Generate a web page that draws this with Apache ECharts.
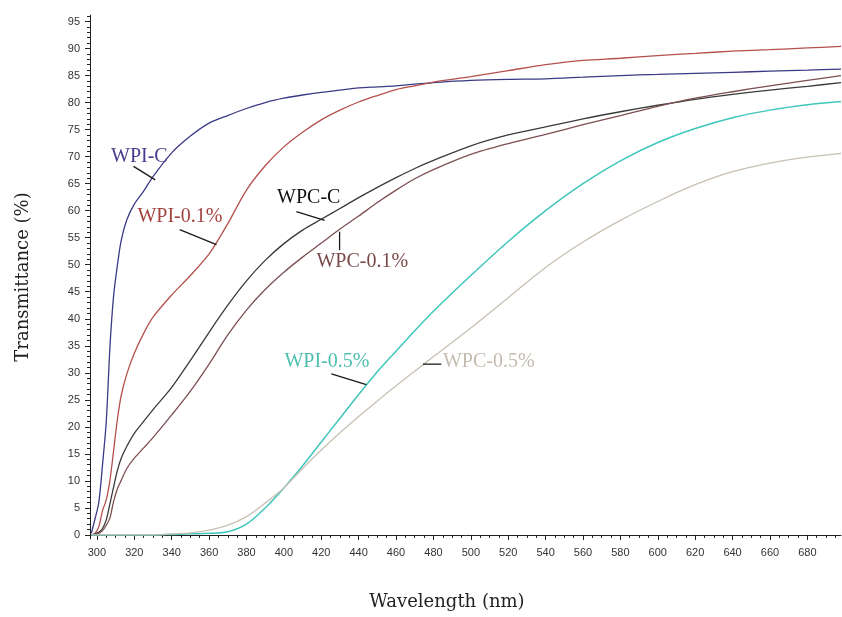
<!DOCTYPE html>
<html>
<head>
	<meta charset="UTF-8">
	<script src="https://cdn.jsdelivr.net/npm/echarts@6/dist/echarts.min.js"></script>
	<title>Transmittance</title>
	<style>
		html, body { margin: 0; padding: 0; background: #fff; }
	</style>
</head>
<body>
	<div id="main" style="width:842px;height:617px;"></div>
	<script type="text/javascript">
        // wavelength grid (nm) shared by all curves
        var wavelength = [297, 299, 301, 303, 305, 307, 309, 311, 313, 316, 320, 325, 330,
            340, 350, 360, 370, 380, 390, 400, 410, 420, 430, 440, 450, 460, 470, 480,
            500, 520, 540, 560, 580, 600, 620, 640, 660, 680, 698];

        // transmittance (%)
        var wpiC = [0.3, 3, 6, 13, 21, 35, 44.5, 50, 54.5, 58.3, 61.2, 63.6, 66.3,
            70.7, 73.8, 76.2, 77.6, 78.9, 80.0, 80.8, 81.4, 81.9, 82.3, 82.7, 82.9, 83.1, 83.4, 83.7,
            84.1, 84.3, 84.4, 84.7, 85.0, 85.2, 85.4, 85.6, 85.8, 86.0, 86.2];
        var wpi01 = [0, 0.3, 1.5, 4.5, 6.5, 10.2, 15.8, 21.5, 25.8, 29.8, 33.6, 37.3, 40.3,
            44.4, 48.0, 52.0, 57.6, 63.8, 68.3, 71.8, 74.5, 76.8, 78.6, 80.1, 81.3, 82.4, 83.1, 83.8,
            84.8, 85.9, 87.0, 87.8, 88.2, 88.7, 89.1, 89.5, 89.8, 90.1, 90.4];
        var wpcC = [0, 0.2, 0.5, 1.2, 2.8, 5.8, 9.0, 12.0, 14.2, 16.4, 18.8, 21.0, 23.2,
            27.3, 32.3, 37.5, 42.5, 47.0, 50.8, 53.9, 56.4, 58.4, 60.4, 62.4, 64.3, 66.1, 67.8, 69.3,
            72.0, 74.0, 75.5, 77.0, 78.3, 79.5, 80.6, 81.5, 82.3, 83.0, 83.7];
        var wpc01 = [0, 0.1, 0.3, 0.8, 1.8, 3.2, 6.3, 8.6, 10.1, 12.3, 14.2, 16.1, 18.0,
            22.2, 26.6, 31.6, 37.0, 41.6, 45.4, 48.6, 51.4, 54.0, 56.6, 59.0, 61.5, 63.8, 65.9, 67.6,
            70.4, 72.4, 74.1, 75.9, 77.6, 79.3, 80.8, 82.0, 83.1, 84.1, 85.0];
        var wpi05 = [0, 0, 0, 0, 0, 0, 0, 0, 0, 0, 0, 0, 0,
            0.1, 0.2, 0.3, 0.6, 2.0, 5.0, 8.7, 12.8, 17.2, 21.6, 26.0, 30.2, 34.0, 37.8, 41.4,
            48.0, 54.3, 60.0, 65.0, 69.2, 72.6, 75.2, 77.2, 78.6, 79.6, 80.2];
        var wpc05 = [0, 0, 0, 0, 0, 0, 0, 0, 0, 0, 0, 0, 0,
            0.2, 0.4, 0.9, 1.8, 3.4, 5.9, 8.7, 12.3, 15.7, 18.9, 21.9, 24.8, 27.6, 30.3, 33.0,
            38.3, 43.9, 49.5, 54.2, 58.2, 61.7, 64.8, 67.2, 68.8, 69.9, 70.6];

        var seriesNames = ['WPI-C', 'WPI-0.1%', 'WPC-C', 'WPC-0.1%', 'WPI-0.5%', 'WPC-0.5%'];
        var seriesValues = [wpiC, wpi01, wpcC, wpc01, wpi05, wpc05];

        // tick labels
        var xTicks = [300, 320, 340, 360, 380, 400, 420, 440, 460, 480, 500, 520, 540, 560, 580, 600, 620, 640, 660, 680];
        var yTicks = [0, 5, 10, 15, 20, 25, 30, 35, 40, 45, 50, 55, 60, 65, 70, 75, 80, 85, 90, 95];
        var xMinor = [];
        for (var w = 300; w <= 695; w += 5) xMinor.push(w);
        var yMinor = [];
        for (var v = 0; v <= 96; v++) yMinor.push(v);

        var lineColors = ['#3b3a86', '#b4504c', '#3a3a3a', '#7d4f52', '#3fc6bc', '#c8c0b3'];
        var textColors = ['#4b3a8e', '#a3433f', '#111111', '#7a4a4a', '#4fc0b0', '#c4bcb0'];

        // where each curve label sits, and its pointer line (data coordinates)
        var notes = [
            { at: [322.7, 70.0], from: [319.6, 68.2], to: [331.2, 65.7] },
            { at: [344.4, 58.9], from: [344.3, 56.5], to: [363.9, 53.7] },
            { at: [413.3, 62.4], from: [406.7, 59.8], to: [421.8, 58.2] },
            { at: [441.9, 50.5], from: [429.8, 56.1], to: [429.8, 52.7] },
            { at: [423.0, 32.0], from: [425.4, 29.8], to: [444.1, 27.8] },
            { at: [509.6, 32.0], from: [474.4, 31.6], to: [484.2, 31.6] }
        ];

        var xMin = 296.3, xMax = 698, yMin = -0.75, yMax = 96.2;
        var tickFont = '"Liberation Sans", Arial, sans-serif';
        var serif = '"DejaVu Serif", serif';

        var myChart = echarts.init(document.getElementById('main'));

        var series = seriesNames.map(function (name, k) {
            return {
                name: name,
                type: 'line',
                showSymbol: false,
                smooth: 0.3,
                lineStyle: { color: lineColors[k], width: k === 4 ? 1.5 : 1.3 },
                data: wavelength.map(function (x, i) { return [x, seriesValues[k][i]]; }),
                z: 3
            };
        });

        var option = {
            animation: false,
            backgroundColor: '#fff',
            grid: { left: 90, right: 1, top: 15, bottom: 78 },
            xAxis: [
                {
                    type: 'value', position: 'bottom', min: xMin, max: xMax,
                    axisLine: { lineStyle: { color: '#222', width: 1 } },
                    axisTick: { customValues: xTicks, length: 5, lineStyle: { color: '#222' } },
                    axisLabel: { customValues: xTicks, fontSize: 11, color: '#333', fontFamily: tickFont, margin: 8 },
                    splitLine: { show: false },
                    name: 'Wavelength (nm)', nameLocation: 'middle', nameGap: 54,
                    nameTextStyle: { fontFamily: serif, fontSize: 18, color: '#222', padding: [0, 37, 0, 0] }
                },
                {
                    type: 'value', position: 'bottom', min: xMin, max: xMax,
                    axisLine: { show: false },
                    axisTick: { customValues: xMinor, length: 3, lineStyle: { color: '#222' } },
                    axisLabel: { show: false },
                    splitLine: { show: false }
                }
            ],
            yAxis: [
                {
                    type: 'value', position: 'left', min: yMin, max: yMax,
                    axisLine: { show: true, lineStyle: { color: '#222', width: 1 } },
                    axisTick: { show: true, customValues: yTicks, length: 5, lineStyle: { color: '#222' } },
                    axisLabel: { customValues: yTicks, fontSize: 11, color: '#333', fontFamily: tickFont, margin: 10 },
                    splitLine: { show: false },
                    name: 'Transmittance (%)', nameLocation: 'middle', nameGap: 58,
                    nameTextStyle: { fontFamily: serif, fontSize: 18, color: '#222' }
                },
                {
                    type: 'value', position: 'left', min: yMin, max: yMax,
                    axisLine: { show: false },
                    axisTick: { show: true, customValues: yMinor, length: 3, lineStyle: { color: '#222' } },
                    axisLabel: { show: false },
                    splitLine: { show: false }
                }
            ],
            series: series
        };
        myChart.setOption(option);

        // curve labels with their pointer lines
        var els = [];
        notes.forEach(function (n, k) {
            var t = myChart.convertToPixel({ xAxisIndex: 0, yAxisIndex: 0 }, n.at);
            var a = myChart.convertToPixel({ xAxisIndex: 0, yAxisIndex: 0 }, n.from);
            var b = myChart.convertToPixel({ xAxisIndex: 0, yAxisIndex: 0 }, n.to);
            els.push({
                type: 'line', z: 10,
                shape: { x1: a[0], y1: a[1], x2: b[0], y2: b[1] },
                style: { stroke: '#1a1a1a', lineWidth: 1.3 }
            });
            els.push({
                type: 'text', z: 10, x: t[0], y: t[1],
                style: {
                    text: seriesNames[k], fill: textColors[k],
                    fontFamily: '"Liberation Serif", serif', fontSize: 20,
                    align: 'center', verticalAlign: 'middle'
                }
            });
        });
        myChart.setOption({ graphic: els });
	</script>
</body>
</html>
